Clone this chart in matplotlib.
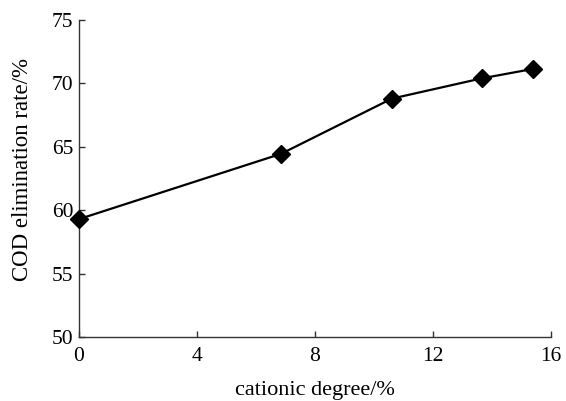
import matplotlib
matplotlib.use("Agg")
import matplotlib.pyplot as plt

cationic_degree = [0.0, 6.85, 10.6, 13.65, 15.4]
cod_removal = [59.3, 64.45, 68.8, 70.4, 71.15]
x_ticks = [0, 4, 8, 12, 16]
y_ticks = [50, 55, 60, 65, 70, 75]

plt.rcParams['font.family'] = ['Liberation Serif', 'DejaVu Serif']

fig = plt.figure(figsize=(5.66, 4.01), dpi=100)
ax = fig.add_axes([0.1396, 0.1596, 0.834, 0.7904])
ax.plot(cationic_degree, cod_removal, color='black', linewidth=1.6,
        marker='D', markersize=9, markerfacecolor='black', markeredgecolor='black',
        clip_on=False, zorder=3)
ax.set_xlim(0, 16)
ax.set_ylim(50, 75)
ax.set_xticks(x_ticks)
ax.set_yticks(y_ticks)
for s in ['top', 'right']:
    ax.spines[s].set_visible(False)
for s in ['left', 'bottom']:
    ax.spines[s].set_linewidth(1.0)
    ax.spines[s].set_color('#333333')
ax.tick_params(direction='in', length=4, width=1.0, labelsize=15.5, colors='#333333',
               labelcolor='black')
ax.tick_params(axis='y', pad=4)
ax.tick_params(axis='x', pad=7)
ax.set_xlabel('cationic degree/%', fontsize=16)
ax.set_ylabel('COD elimination rate/%', fontsize=16.5)
ax.xaxis.set_label_coords(0.5, -0.14)
ax.yaxis.set_label_coords(-0.097, 0.53)
fig.savefig('out.png', dpi=100)
